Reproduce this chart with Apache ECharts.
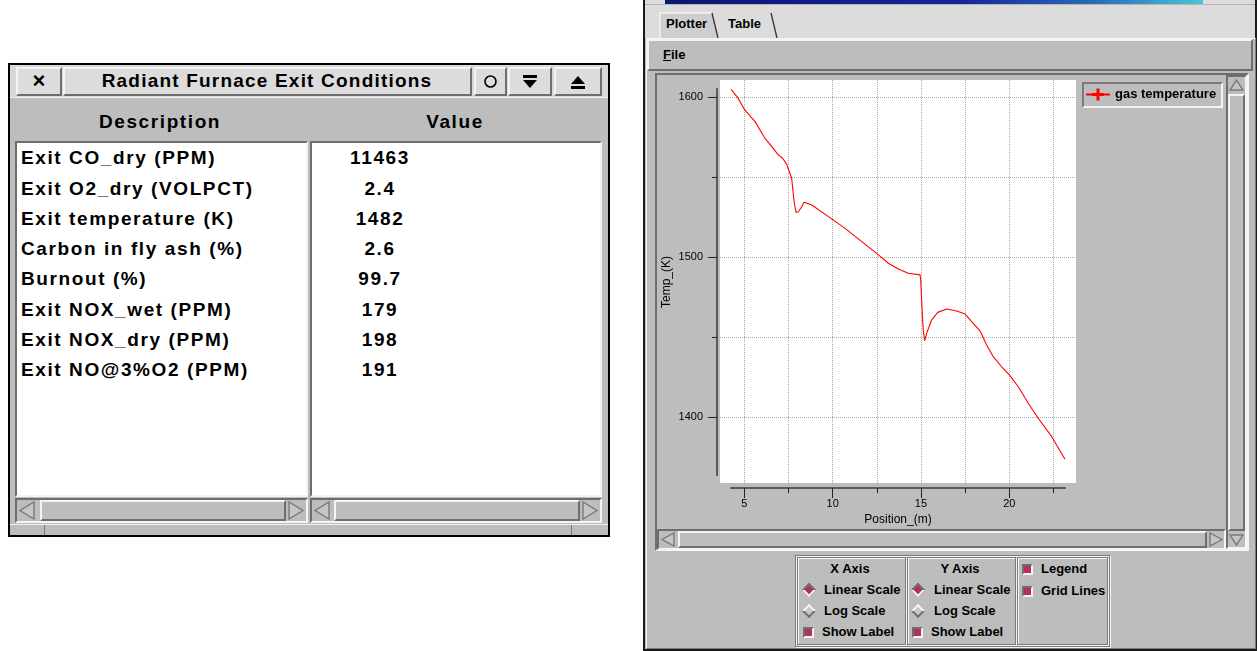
<!DOCTYPE html>
<html><head><meta charset="utf-8">
<script src="https://cdn.jsdelivr.net/npm/echarts@6/dist/echarts.min.js"></script>
<style>
html,body{margin:0;padding:0;background:#fff;}
body{width:1258px;height:651px;position:relative;overflow:hidden;font-family:"Liberation Sans",Arial,Helvetica,sans-serif;color:#000;}
#ui div{position:absolute;box-sizing:border-box;}
#ui svg{position:absolute;left:0;top:0;}
.r{border:2px solid;border-color:#f4f4f4 #6e6e6e #6e6e6e #f4f4f4;}
.s{border:2px solid;border-color:#6e6e6e #f4f4f4 #f4f4f4 #6e6e6e;}
.e{border:1px solid #7a7a7a;box-shadow:inset 1px 1px 0 #f4f4f4, 1px 1px 0 #f4f4f4;}
.b13{font-weight:bold;font-size:13px;white-space:nowrap;}
.big{font-weight:bold;font-size:19px;letter-spacing:1.6px;white-space:nowrap;}
#chart{position:absolute;left:0;top:0;width:1258px;height:651px;pointer-events:none;}
</style></head>
<body>
<div id="ui"></div>
<div id="chart"></div>
<script>
// ---------- chart data ----------
const positions = [4.25, 4.63, 5.0, 5.61, 6.17, 6.46, 6.92, 7.17, 7.40, 7.55, 7.68, 7.74, 7.83, 7.93, 8.06, 8.25, 8.38, 8.49, 8.82, 9.95, 10.70, 11.65, 12.59, 13.15, 13.72, 14.28, 14.95, 14.99, 15.04, 15.08, 15.13, 15.21, 15.32, 15.60, 15.95, 16.46, 17.02, 17.49, 17.87, 18.34, 18.72, 19.09, 19.57, 20.00, 20.51, 21.07, 21.64, 22.40, 23.15];
const gasTemperature = [1604.8, 1599.6, 1592.3, 1584.6, 1574.2, 1570.4, 1563.8, 1561.7, 1557.9, 1553.3, 1549.2, 1542.9, 1533.6, 1527.9, 1528.3, 1531.4, 1534.2, 1534.6, 1532.5, 1523.8, 1517.9, 1509.6, 1501.3, 1496.1, 1492.5, 1489.8, 1488.8, 1484.6, 1472.1, 1463.8, 1454.4, 1447.7, 1452.3, 1460.6, 1465.4, 1467.5, 1466.3, 1464.4, 1459.6, 1453.9, 1445.0, 1437.7, 1431.4, 1426.3, 1418.9, 1408.6, 1399.2, 1387.7, 1373.6];
const seriesName = 'gas temperature';
const xTickLabels = [5, 10, 15, 20];
const xMinorTicks = [7.5, 12.5, 17.5, 22.5];
const yTickLabels = [1400, 1500, 1600];
const yMinorTicks = [1450, 1550];
const xGridLines = [5, 7.5, 10, 12.5, 15, 17.5, 20, 22.5];
const yGridLines = [1400, 1450, 1500, 1550, 1600];
const xAxisTitle = 'Position_(m)';
const yAxisTitle = 'Temp_(K)';

// ---------- table (left window) ----------
const tableDescriptions = ['Exit CO_dry (PPM)', 'Exit O2_dry (VOLPCT)', 'Exit temperature (K)', 'Carbon in fly ash (%)', 'Burnout (%)', 'Exit NOX_wet (PPM)', 'Exit NOX_dry (PPM)', 'Exit NO@3%O2 (PPM)'];
const tableValues = ['11463', '2.4', '1482', '2.6', '99.7', '179', '198', '191'];

// ---------- GUI chrome ----------
const ui = document.getElementById('ui');
function b(x, y, w, h, cls, style, html) {
  const d = document.createElement('div');
  d.style.cssText = `left:${x}px;top:${y}px;width:${w}px;height:${h}px;` + (style || '');
  if (cls) d.className = cls;
  if (html) d.innerHTML = html;
  ui.appendChild(d);
  return d;
}
function tl(x, cy, txt, cls, style) { return b(x, cy - 11, 400, 22, cls, 'line-height:22px;' + (style || ''), txt); }
function tc(cx, cy, txt, cls, style) { return b(cx - 200, cy - 11, 400, 22, cls, 'line-height:22px;text-align:center;' + (style || ''), txt); }
function svg(w, h, inner) { return `<svg width="${w}" height="${h}" viewBox="0 0 ${w} ${h}">${inner}</svg>`; }
function arrow(w, h, dir) {
  let p;
  if (dir === 'l') p = `${w-3},2 ${w-3},${h-2} 3,${h/2}`;
  if (dir === 'r') p = `3,2 3,${h-2} ${w-3},${h/2}`;
  if (dir === 'u') p = `2,${h-3} ${w-2},${h-3} ${w/2},3`;
  if (dir === 'd') p = `2,3 ${w-2},3 ${w/2},${h-3}`;
  return svg(w, h, `<polygon points="${p}" fill="#c6c6c6" stroke="#7a7a7a" stroke-width="1.4"/>`);
}

// left dialog
b(8, 63, 602, 474, '', 'border:2px solid #000;background:#bdbdbd;');
b(10, 65, 598, 32, '', 'background:#d9d9d9;');
b(16, 67, 46, 29, 'r', 'background:#dcdcdc;font-weight:bold;font-size:22px;line-height:24px;text-align:center;', '&#215;');
b(63, 67, 409, 29, 'r', 'background:#dcdcdc;');
tc(267, 81, 'Radiant Furnace Exit Conditions', 'big', 'letter-spacing:1.2px;');
b(474, 67, 33, 29, 'r', 'background:#dcdcdc;', svg(29, 25, '<circle cx="14.5" cy="12.5" r="5.5" fill="none" stroke="#000" stroke-width="1.6"/>'));
b(508, 67, 44, 29, 'r', 'background:#dcdcdc;', svg(40, 25, '<rect x="13" y="6" width="14" height="3" fill="#000"/><polygon points="13,11 27,11 20,19" fill="#000"/>'));
b(554, 67, 48, 29, 'r', 'background:#dcdcdc;', svg(44, 25, '<polygon points="15,15 29,15 22,7" fill="#000"/><rect x="15" y="17" width="14" height="3" fill="#000"/>'));
b(10, 97, 598, 45, '', 'background:#bdbdbd;border-top:1px solid #efefef;');
tc(160, 122, 'Description', 'big');
tc(455, 122, 'Value', 'big');
b(15, 141, 293, 356, 's', 'background:#fff;');
b(310, 141, 292, 356, 's', 'background:#fff;');
tableDescriptions.forEach((t, i) => tl(21, 158.2 + i * 30.3, t, 'big'));
tableValues.forEach((t, i) => tc(380, 158.2 + i * 30.3, t, 'big'));
// dialog scrollbars
[[15, 293, 40, 246], [310, 292, 334, 246]].forEach(([x, w, tx, tw]) => {
  b(x, 498, w, 25, 's', 'background:#bdbdbd;');
  b(x + 2, 500, 20, 21, '', '', arrow(20, 21, 'l'));
  b(tx, 500, tw, 21, 'r', 'background:#bdbdbd;');
  b(x + w - 22, 500, 20, 21, '', '', arrow(20, 21, 'r'));
});
b(10, 524, 598, 11, '', 'background:#bdbdbd;border-top:1px solid #f2f2f2;');
b(44, 525, 1, 10, '', 'background:#7a7a7a;');
b(571, 525, 1, 10, '', 'background:#7a7a7a;');

// right window
b(643, 0, 614, 651, '', 'background:#bdbdbd;border-left:2px solid #1a1a1a;border-right:2px solid #1a1a1a;border-bottom:2px solid #1a1a1a;');
b(645, 0, 610, 38, '', 'background:#dcdcdc;');
b(665, 0, 538, 4, '', 'background:linear-gradient(90deg,#0c1572,#17259a 55%,#2a6cb8 80%,#4cc4d8);');
b(645, 4, 610, 1, '', 'background:#b4b4b4;');
b(645, 5, 610, 34, '', '', svg(610, 34,
  '<polygon points="15,33 15,8 67,8 73,33" fill="#cecece"/>' +
  '<polyline points="15,33 15,8 67,8" fill="none" stroke="#f4f4f4" stroke-width="1.5"/>' +
  '<line x1="67" y1="8" x2="73" y2="33" stroke="#333" stroke-width="1.3"/>' +
  '<line x1="126" y1="8" x2="132" y2="33" stroke="#333" stroke-width="1.3"/>'));
tl(666, 24, 'Plotter', 'b13');
tl(728, 24, 'Table', 'b13');
b(646, 38, 610, 611, '', 'border-top:1px solid #f4f4f4;border-left:1px solid #f4f4f4;border-right:1px solid #7a7a7a;border-bottom:1px solid #7a7a7a;');
b(647, 39, 606, 32, 'r', 'background:#bdbdbd;');
tl(663, 55, '<u>F</u>ile', 'b13');
// plot scroll panel
b(655, 73, 594, 478, 's', 'background:#bdbdbd;');
// vertical scrollbar
b(1226, 75, 21, 474, 's', 'background:#bdbdbd;');
b(1228, 77, 17, 16, '', '', arrow(17, 16, 'u'));
b(1228, 94, 17, 437, 'r', 'background:#bdbdbd;');
b(1228, 532, 17, 16, '', '', arrow(17, 16, 'd'));
// horizontal scrollbar
b(657, 529, 569, 21, 's', 'background:#bdbdbd;');
b(659, 531, 18, 17, '', '', arrow(18, 17, 'l'));
b(678, 531, 529, 17, 'r', 'background:#bdbdbd;');
b(1207, 531, 18, 17, '', '', arrow(18, 17, 'r'));
// legend frame
b(1082, 82, 141, 26, '', 'border:2px solid;border-color:#7a7a7a #f4f4f4 #f4f4f4 #7a7a7a;');
// control panel
b(795, 555, 315, 92, 'e', '');
b(797, 557, 109, 88, 'e', '');
b(907, 557, 109, 88, 'e', '');
b(1017, 557, 91, 88, 'e', '');
const MAROON = '#b03060';
function diamond(cx, cy, on) {
  b(cx - 5, cy - 5, 10, 10, '', `transform:rotate(45deg);border:2px solid;border-color:${on ? '#6e6e6e #f4f4f4 #f4f4f4 #6e6e6e' : '#f4f4f4 #6e6e6e #6e6e6e #f4f4f4'};background:${on ? MAROON : '#c8c8c8'};`);
}
function check(x, y) {
  b(x, y, 11, 11, '', `border:2px solid;border-color:#6e6e6e #f4f4f4 #f4f4f4 #6e6e6e;background:${MAROON};`);
}
tc(850, 569, 'X Axis', 'b13');
diamond(809, 590, true); tl(824, 590, 'Linear Scale', 'b13');
diamond(809, 611, false); tl(824, 611, 'Log Scale', 'b13');
check(803, 627); tl(822, 632, 'Show Label', 'b13');
tc(960, 569, 'Y Axis', 'b13');
diamond(918, 590, true); tl(934, 590, 'Linear Scale', 'b13');
diamond(918, 611, false); tl(934, 611, 'Log Scale', 'b13');
check(912, 627); tl(931, 632, 'Show Label', 'b13');
check(1022, 564); tl(1041, 569, 'Legend', 'b13');
check(1022, 586); tl(1041, 591, 'Grid Lines', 'b13');

// ---------- ECharts plot ----------
const FONT = '"Liberation Sans", Arial, sans-serif';
// white plotting canvas (grid 0) and data frame with axes (grid 1), same scale
const XA_MIN = 3.625, XA_MAX = 23.775, YA_MIN = 1358.75, YA_MAX = 1610.625;
const XB_MIN = 4.247, XB_MAX = 23.152, YB_MIN = 1363.75, YB_MAX = 1605;
const AXIS_COLOR = '#5a5a5a';
const hidden = { show: false };
const plain = v => String(v);
const chart = echarts.init(document.getElementById('chart'), null, { renderer: 'canvas' });
chart.setOption({
  animation: false,
  backgroundColor: 'transparent',
  grid: [
    { left: 720, top: 80, width: 356, height: 403, show: true, backgroundColor: '#ffffff', borderWidth: 0 },
    { left: 731, top: 89, width: 334, height: 386, show: false }
  ],
  legend: {
    data: [seriesName], left: 1086, top: 88, padding: 0,
    itemWidth: 24, itemHeight: 12,
    icon: 'path://M0,5H24V7H0Z M6,4.5H18V7.5H6Z M10.5,0H13.5V12H10.5Z',
    textStyle: { fontFamily: FONT, fontSize: 13, fontWeight: 'bold', color: '#000' }
  },
  xAxis: [
    { gridIndex: 0, type: 'value', min: XA_MIN, max: XA_MAX, axisLine: hidden, axisLabel: hidden,
      axisTick: { show: false, customValues: xGridLines },
      splitLine: { show: true, lineStyle: { color: '#a8a8a8', type: [1, 1], width: 1 } } },
    { gridIndex: 1, type: 'value', min: XB_MIN, max: XB_MAX, position: 'bottom', offset: 13,
      axisLine: { show: true, onZero: false, lineStyle: { color: AXIS_COLOR, width: 2 } },
      axisTick: { show: true, length: 10, customValues: xTickLabels, lineStyle: { color: '#222', width: 1 } },
      axisLabel: { show: true, customValues: xTickLabels, formatter: plain, margin: 10, fontFamily: FONT, fontSize: 11, color: '#000' },
      splitLine: hidden,
      name: xAxisTitle, nameLocation: 'middle', nameGap: 26,
      nameTextStyle: { fontFamily: FONT, fontSize: 12, color: '#000' } },
    { gridIndex: 1, type: 'value', min: XB_MIN, max: XB_MAX, position: 'bottom', offset: 13,
      axisLine: { show: false, onZero: false },
      axisTick: { show: true, length: 5, customValues: xMinorTicks, lineStyle: { color: '#222', width: 1 } },
      axisLabel: hidden, splitLine: hidden }
  ],
  yAxis: [
    { gridIndex: 0, type: 'value', min: YA_MIN, max: YA_MAX, axisLine: hidden, axisLabel: hidden,
      axisTick: { show: false, customValues: yGridLines },
      splitLine: { show: true, lineStyle: { color: '#a8a8a8', type: [1, 1], width: 1 } } },
    { gridIndex: 1, type: 'value', min: YB_MIN, max: YB_MAX, position: 'left', offset: 14,
      axisLine: { show: true, onZero: false, lineStyle: { color: AXIS_COLOR, width: 2 } },
      axisTick: { show: true, length: 9, customValues: yTickLabels, lineStyle: { color: '#222', width: 1 } },
      axisLabel: { show: true, customValues: yTickLabels, formatter: plain, margin: 14, fontFamily: FONT, fontSize: 11, color: '#000' },
      splitLine: hidden,
      name: yAxisTitle, nameLocation: 'middle', nameGap: 44, nameRotate: 90,
      nameTextStyle: { fontFamily: FONT, fontSize: 12, color: '#000' } },
    { gridIndex: 1, type: 'value', min: YB_MIN, max: YB_MAX, position: 'left', offset: 14,
      axisLine: { show: false, onZero: false },
      axisTick: { show: true, length: 5, customValues: yMinorTicks, lineStyle: { color: '#222', width: 1 } },
      axisLabel: hidden, splitLine: hidden }
  ],
  series: [{
    name: seriesName, type: 'line', xAxisIndex: 1, yAxisIndex: 1,
    data: positions.map((x, i) => [x, gasTemperature[i]]),
    showSymbol: false, symbol: 'none', silent: true,
    color: '#ff0000',
    lineStyle: { color: '#ff0000', width: 1.1 }
  }]
});
</script>
</body></html>
